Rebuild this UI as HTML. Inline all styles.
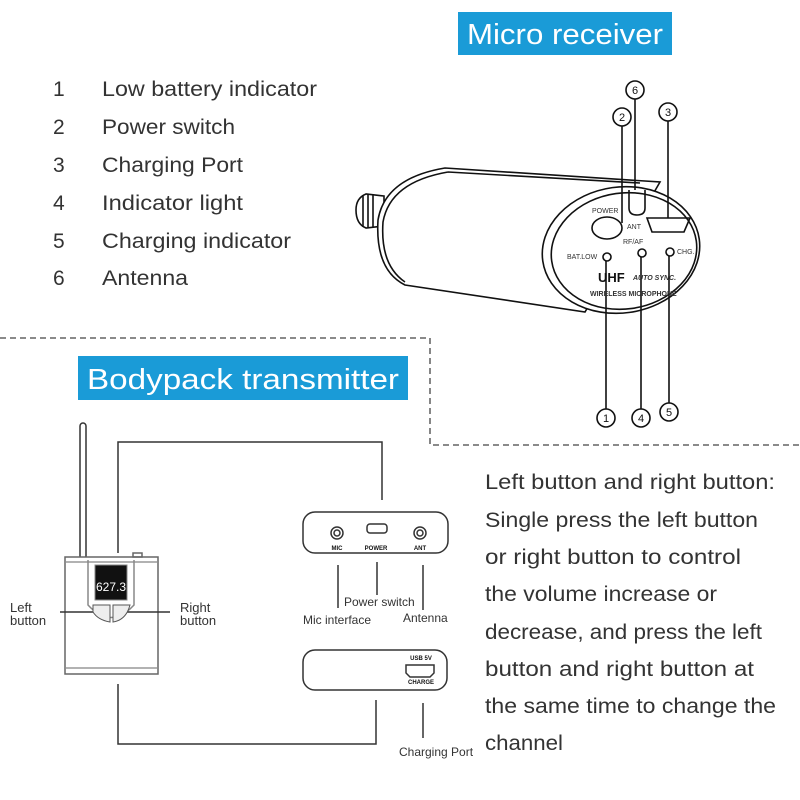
<!DOCTYPE html>
<html><head><meta charset="utf-8"><style>
html,body{margin:0;padding:0;background:#fff;}
svg{display:block;}
text{font-family:"Liberation Sans",sans-serif;}
</style></head><body>
<svg width="800" height="800" viewBox="0 0 800 800" xmlns="http://www.w3.org/2000/svg">
<rect x="458" y="12" width="214" height="43" fill="#1a9bd7"/>
<text x="565" y="44" font-size="29" fill="#fff" text-anchor="middle" textLength="196" lengthAdjust="spacingAndGlyphs">Micro receiver</text>
<rect x="78" y="356" width="330" height="44" fill="#1a9bd7"/>
<text x="243" y="389" font-size="29" fill="#fff" text-anchor="middle" textLength="312" lengthAdjust="spacingAndGlyphs">Bodypack transmitter</text>
<g font-size="21" fill="#333">
<text x="53" y="96">1</text><text x="102" y="96" textLength="215" lengthAdjust="spacingAndGlyphs">Low battery indicator</text>
<text x="53" y="134">2</text><text x="102" y="134" textLength="133" lengthAdjust="spacingAndGlyphs">Power switch</text>
<text x="53" y="172">3</text><text x="102" y="172" textLength="141" lengthAdjust="spacingAndGlyphs">Charging Port</text>
<text x="53" y="210">4</text><text x="102" y="210" textLength="141" lengthAdjust="spacingAndGlyphs">Indicator light</text>
<text x="53" y="248">5</text><text x="102" y="248" textLength="189" lengthAdjust="spacingAndGlyphs">Charging indicator</text>
<text x="53" y="285">6</text><text x="102" y="285" textLength="86" lengthAdjust="spacingAndGlyphs">Antenna</text>
</g>
<path d="M0 338 H430 V445 H800" fill="none" stroke="#444" stroke-width="1.3" stroke-dasharray="6 4"/>
<g fill="none" stroke="#111" stroke-width="1.6">
<path d="M384 196 L366 194 Q356 198 356 210 Q356 224 366 228 L384 226 Z" fill="#fff"/>
<path d="M363 195 v32 M368 194 v34 M373 194 v33"/>
<path d="M445 168 L660 182 L585 312 L405 285 Q375 270 378 220 Q385 178 445 168 Z" fill="#fff"/>
<path d="M448 172 L640 183 M405 282 Q380 265 383 222 Q390 182 448 172"/>
<ellipse cx="621" cy="250" rx="79" ry="63" transform="rotate(-8 621 250)" fill="#fff"/>
<ellipse cx="624" cy="251" rx="73" ry="58" transform="rotate(-8 624 251)"/>
<ellipse cx="607" cy="228" rx="15" ry="11"/>
<path d="M629 190 v18 q0 7 8 7 q8 0 8 -7 v-18"/>
<path d="M647 218 H690 L684 232 H652 Z"/>
<circle cx="607" cy="257" r="4"/><circle cx="642" cy="253" r="4"/><circle cx="670" cy="252" r="4"/>
<circle cx="635" cy="90" r="9"/><path d="M635 99 V190"/>
<circle cx="622" cy="117" r="9"/><path d="M622 126 V223"/>
<circle cx="668" cy="112" r="9"/><path d="M668 121 V218"/>
<circle cx="606" cy="418" r="9"/><path d="M606 409 V261"/>
<circle cx="641" cy="418" r="9"/><path d="M641 409 V257"/>
<circle cx="669" cy="412" r="9"/><path d="M669 403 V256"/>
</g>
<g font-size="11" fill="#111" text-anchor="middle">
<text x="635" y="94">6</text><text x="622" y="121">2</text><text x="668" y="116">3</text>
<text x="606" y="422">1</text><text x="641" y="422">4</text><text x="669" y="416">5</text>
</g>
<g font-size="7" fill="#333">
<text x="592" y="213">POWER</text><text x="627" y="229">ANT</text><text x="623" y="244">RF/AF</text>
<text x="567" y="259">BAT.LOW</text><text x="677" y="254">CHG.</text>
<text x="590" y="296" font-weight="bold">WIRELESS MICROPHONE</text>
<text x="633" y="280" font-weight="bold" font-style="italic">AUTO SYNC.</text>
</g>
<text x="598" y="282" font-size="13" font-weight="bold" fill="#111">UHF</text>
<g fill="none" stroke="#333" stroke-width="1.5">
<rect x="80" y="423" width="6" height="136" rx="3" fill="#fff"/>
<rect x="65" y="557" width="93" height="117" fill="#fff" stroke="#666"/>
<path d="M66 562 H157 M66 668 H157" stroke="#999"/>
<path d="M88 560 V605 Q111 630 134 605 V560" stroke="#888"/>
<rect x="133" y="553" width="9" height="4" stroke="#666"/>
<path d="M118 553 V442 H382 V500 M118 684 V744 H376 V700"/>
<path d="M60 612 H105 M125 612 H170"/>
<rect x="303" y="512" width="145" height="41" rx="12"/>
<circle cx="337" cy="533" r="6"/><circle cx="337" cy="533" r="3"/>
<rect x="367" y="524" width="20" height="9" rx="3"/>
<circle cx="420" cy="533" r="6"/><circle cx="420" cy="533" r="3"/>
<path d="M338 565 V608 M377 562 V595 M423 565 V610 M423 703 V738"/>
<rect x="303" y="650" width="144" height="40" rx="12"/>
<path d="M406 665 H434 V673 L430 677 H410 L406 673 Z"/>
</g>
<rect x="95" y="565" width="32" height="35" fill="#111" stroke="#888"/>
<text x="111" y="591" font-size="12" fill="#fff" text-anchor="middle">627.3</text>
<path d="M93 605 H110 V622 Q98 620 93 612 Z M113 605 H130 Q126 620 113 622 Z" fill="#eee" stroke="#555"/>
<g font-size="13" fill="#333">
<text x="10" y="612">Left</text><text x="10" y="625">button</text>
<text x="180" y="612">Right</text><text x="180" y="625">button</text>
</g>
<g font-size="6" font-weight="bold" fill="#111" text-anchor="middle">
<text x="337" y="550">MIC</text><text x="376" y="550">POWER</text><text x="420" y="550">ANT</text>
<text x="421" y="660">USB 5V</text><text x="421" y="684">CHARGE</text>
</g>
<g font-size="12" fill="#333">
<text x="344" y="606">Power switch</text>
<text x="303" y="624">Mic interface</text>
<text x="403" y="622">Antenna</text>
<text x="399" y="756">Charging Port</text>
</g>
<g font-size="21" fill="#333">
<text x="485" y="489" textLength="290" lengthAdjust="spacingAndGlyphs">Left button and right button:</text>
<text x="485" y="527" textLength="273" lengthAdjust="spacingAndGlyphs">Single press the left button</text>
<text x="485" y="564" textLength="256" lengthAdjust="spacingAndGlyphs">or right button to control</text>
<text x="485" y="601" textLength="232" lengthAdjust="spacingAndGlyphs">the volume increase or</text>
<text x="485" y="639" textLength="277" lengthAdjust="spacingAndGlyphs">decrease, and press the left</text>
<text x="485" y="676" textLength="269" lengthAdjust="spacingAndGlyphs">button and right button at</text>
<text x="485" y="713" textLength="291" lengthAdjust="spacingAndGlyphs">the same time to change the</text>
<text x="485" y="750" textLength="78" lengthAdjust="spacingAndGlyphs">channel</text>
</g>
</svg>
</body></html>
